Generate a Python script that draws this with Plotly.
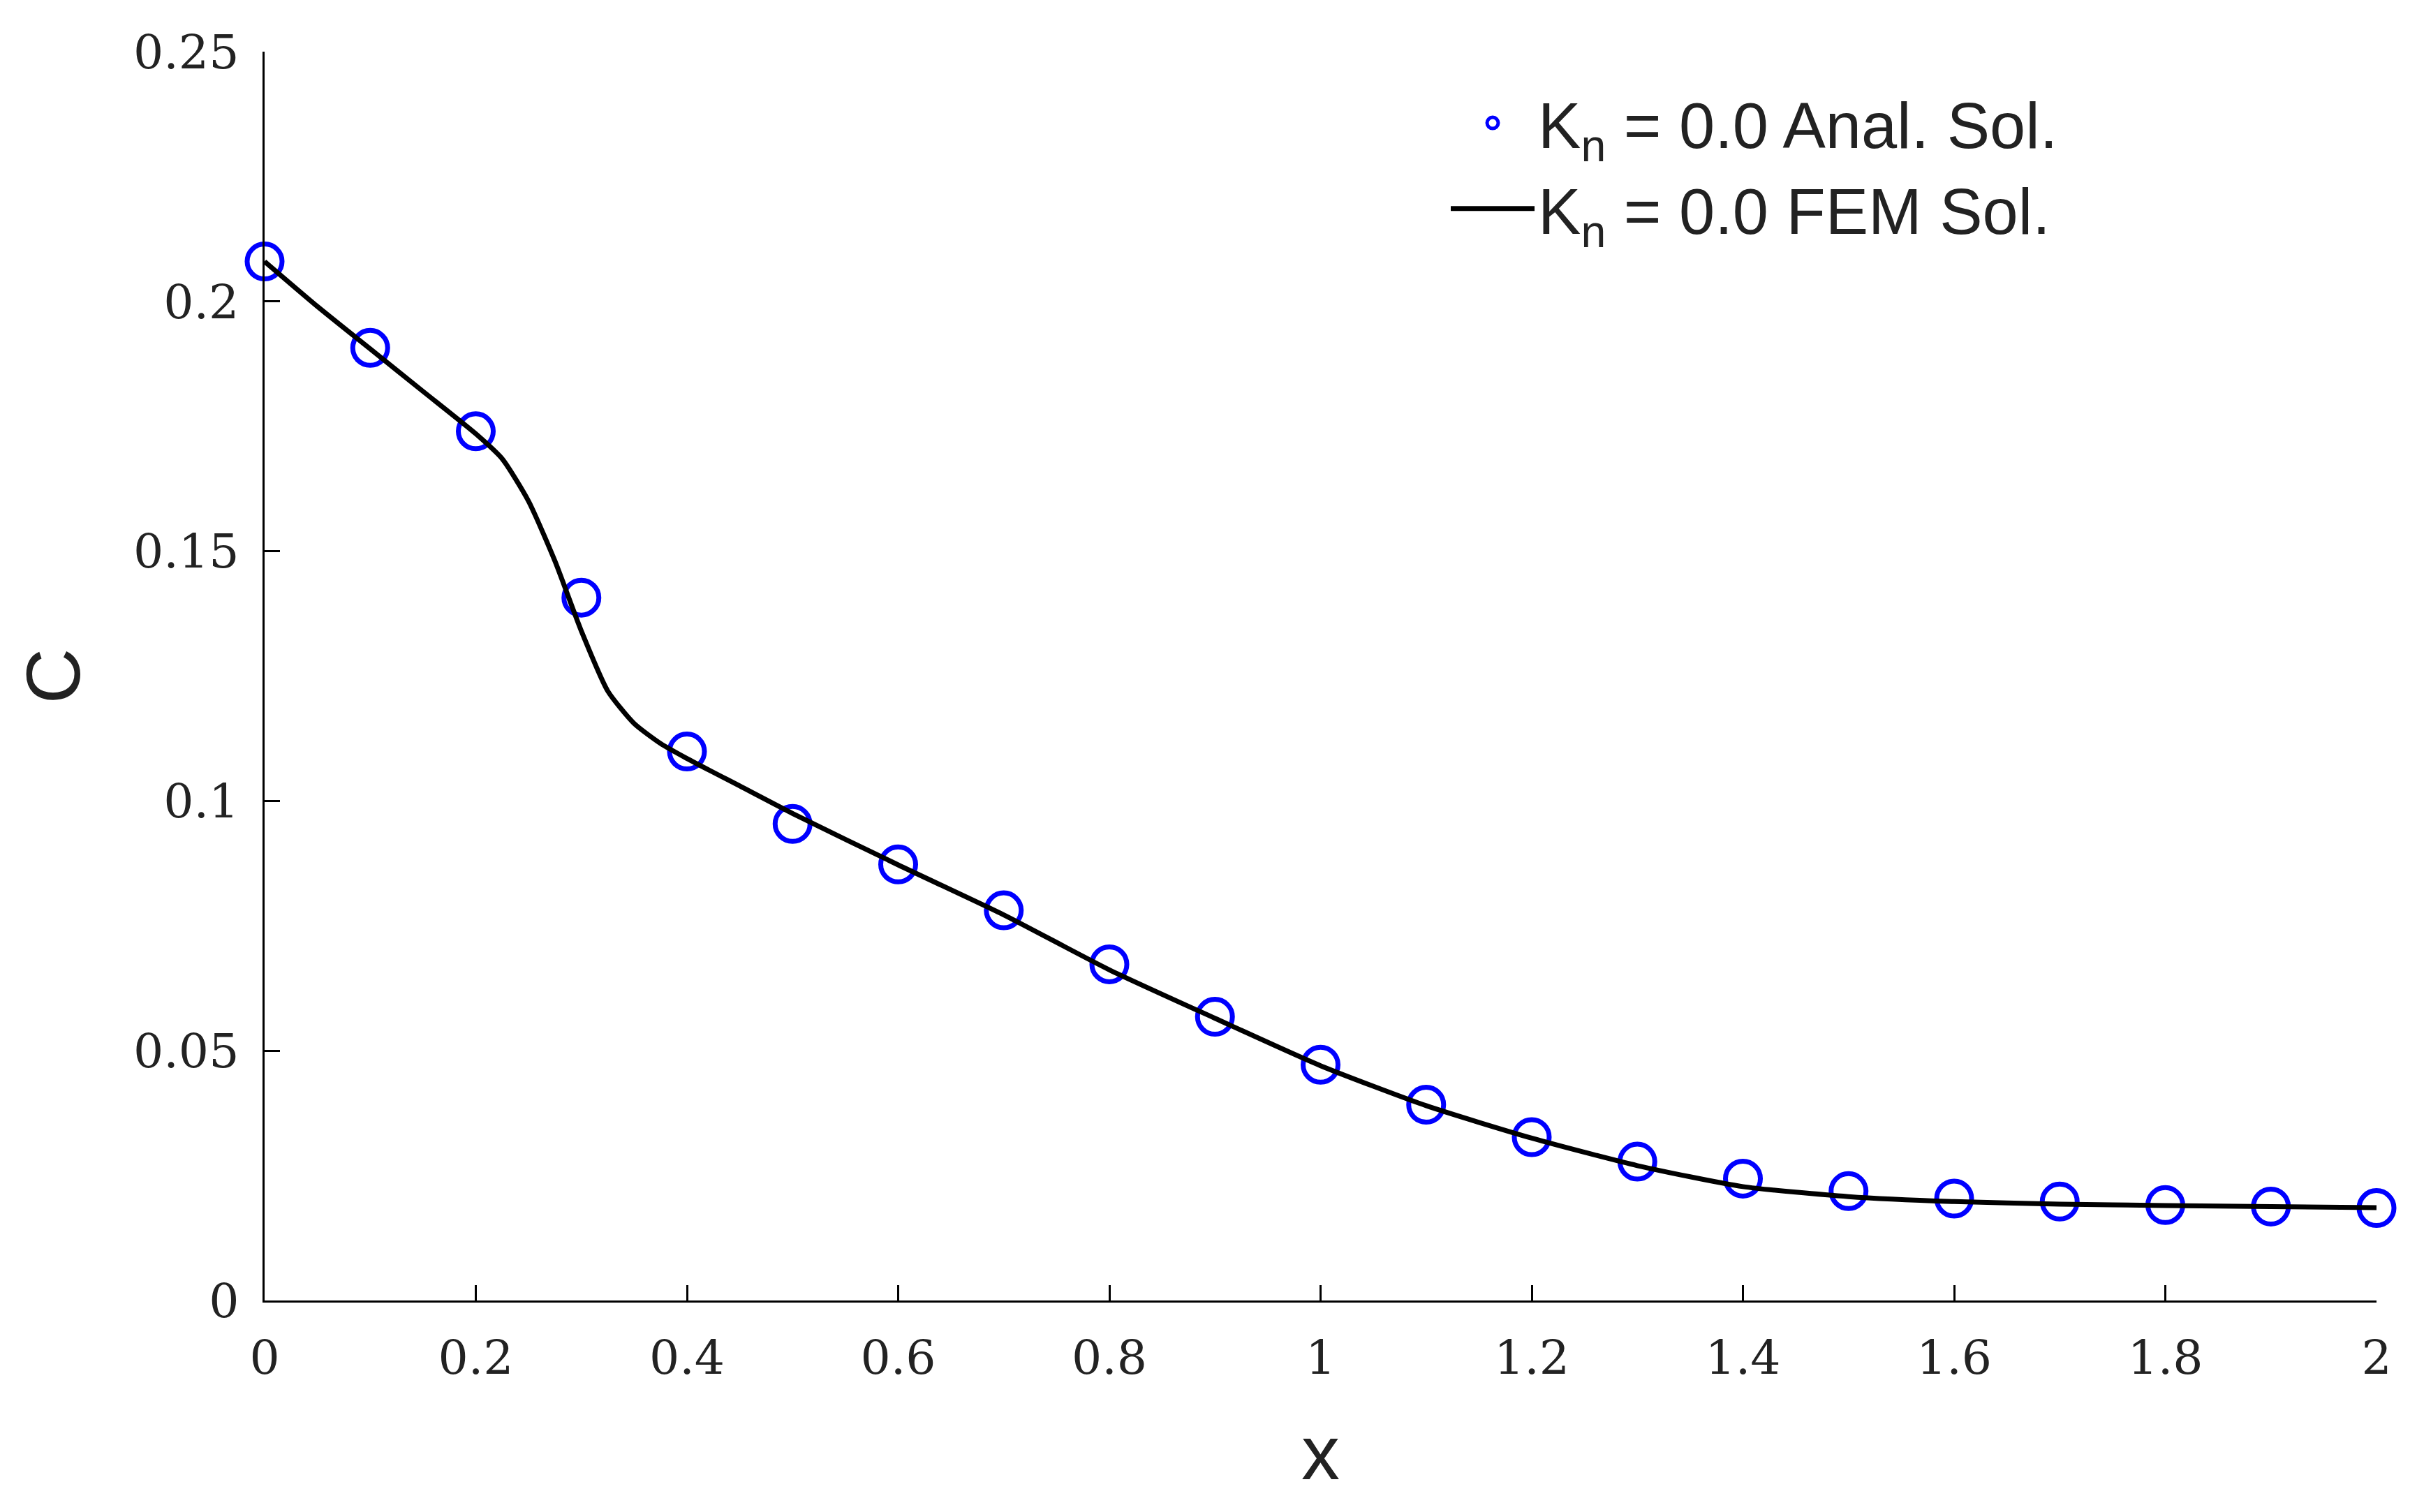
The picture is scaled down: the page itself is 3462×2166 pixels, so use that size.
import plotly.graph_objects as go

# analytical solution points
x_anal = [0, 0.1, 0.2, 0.3, 0.4, 0.5, 0.6, 0.7, 0.8, 0.9, 1.0,
          1.1, 1.2, 1.3, 1.4, 1.5, 1.6, 1.7, 1.8, 1.9, 2.0]
c_anal = [0.208, 0.1907, 0.174, 0.1407, 0.1099, 0.0954, 0.0873, 0.0781, 0.0673, 0.0568, 0.0472,
          0.0392, 0.0327, 0.0278, 0.0244, 0.0219, 0.0204, 0.0198, 0.0191, 0.0188, 0.0185]

# FEM solution
x_fem = [0, 0.05, 0.1, 0.15, 0.2, 0.225, 0.25, 0.275, 0.3, 0.325, 0.35, 0.375, 0.4,
         0.45, 0.5, 0.6, 0.7, 0.8, 0.9, 1.0, 1.1, 1.2, 1.3, 1.4, 1.5, 1.6, 1.7, 1.8, 1.9, 2.0]
c_fem = [0.208, 0.199, 0.1905, 0.182, 0.1735, 0.1685, 0.160, 0.148, 0.134, 0.122, 0.1155, 0.1115, 0.1085,
         0.103, 0.0975, 0.0872, 0.0772, 0.0662, 0.0565, 0.047, 0.039, 0.0325, 0.027, 0.0228, 0.0208,
         0.0198, 0.0193, 0.019, 0.0188, 0.0186]

fig = go.Figure()
fig.add_trace(go.Scatter(x=x_anal, y=c_anal, mode='markers', name='K<sub>n</sub> = 0.0 Anal. Sol.',
                         cliponaxis=False,
                         marker=dict(symbol='circle-open', size=50, color='#0000ff',
                                     line=dict(width=7, color='#0000ff'))))
fig.add_trace(go.Scatter(x=x_fem, y=c_fem, mode='lines', name='K<sub>n</sub> = 0.0 FEM Sol.',
                         line=dict(color='black', width=7, shape='spline', smoothing=0.6)))

axis_common = dict(showline=True, linecolor='black', linewidth=3, ticks='inside', ticklen=22,
                   tickwidth=3, tickcolor='black', showgrid=False, zeroline=False,
                   tickfont=dict(family='DejaVu Serif', size=68, color='#222'),
                   ticklabelstandoff=20, mirror=False)

fig.update_layout(
    width=3462, height=2166,
    plot_bgcolor='white', paper_bgcolor='white',
    margin=dict(l=371, r=66, t=66, b=311),
    xaxis=dict(range=[0, 2], tickvals=[0, 0.2, 0.4, 0.6, 0.8, 1, 1.2, 1.4, 1.6, 1.8, 2],
               ticktext=['0', '0.2', '0.4', '0.6', '0.8', '1', '1.2', '1.4', '1.6', '1.8', '2'],
               title=dict(text='x', font=dict(family='Liberation Sans', size=110, color='#222'),
                          standoff=60), **axis_common),
    yaxis=dict(range=[0, 0.25], tickvals=[0, 0.05, 0.1, 0.15, 0.2, 0.25],
               ticktext=['0', '0.05', '0.1', '0.15', '0.2', '0.25'],
               title=dict(text='C', font=dict(family='Liberation Sans', size=110, color='#222'),
                          standoff=40), **axis_common),
    legend=dict(x=0.56, y=0.98, xanchor='left', yanchor='top', bgcolor='rgba(0,0,0,0)',
                font=dict(family='Liberation Sans', size=92, color='#222'),
                itemwidth=120, tracegroupgap=60),
    showlegend=True,
)

fig.write_html("out.html")
